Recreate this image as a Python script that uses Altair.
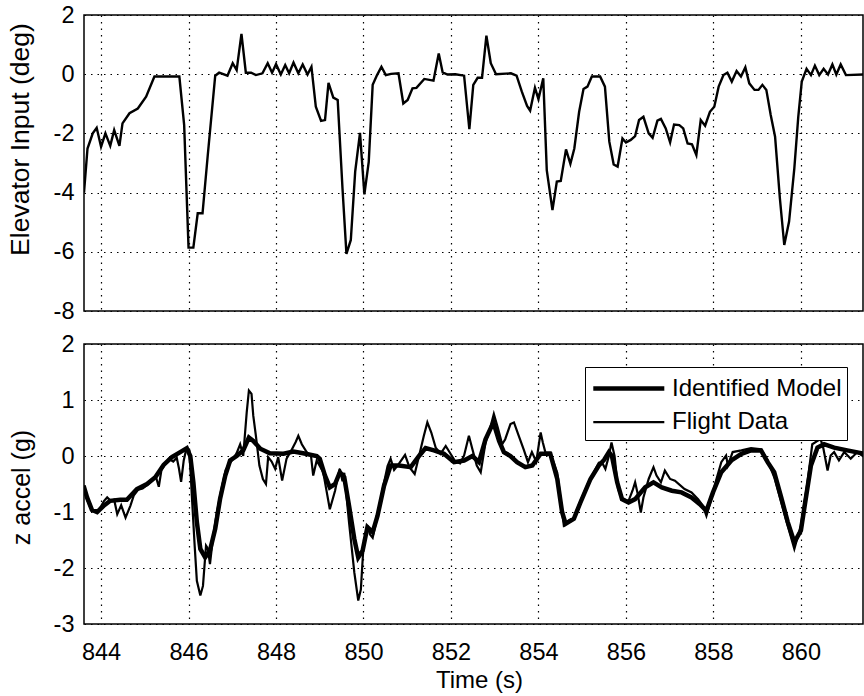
import altair as alt
import pandas as pd

# ---------------- data ----------------
elev_t = [843.61, 843.69, 843.81, 843.90, 844.00, 844.10, 844.21, 844.30, 844.42, 844.49,
          844.65, 844.84, 845.03, 845.22, 845.79, 845.90, 846.00, 846.11, 846.21, 846.32,
          846.44, 846.61, 846.70, 846.89, 847.01, 847.10, 847.21, 847.31, 847.43, 847.54,
          847.69, 847.81, 847.91, 848.00, 848.11, 848.21, 848.30, 848.40, 848.51, 848.61,
          848.72, 848.81, 848.91, 849.03, 849.12, 849.20, 849.31, 849.41, 849.52, 849.61,
          849.71, 849.81, 849.92, 850.02, 850.12, 850.21, 850.31, 850.41, 850.51, 850.63,
          850.80, 850.91, 851.01, 851.12, 851.21, 851.39, 851.60, 851.72, 851.81, 851.92,
          852.10, 852.30, 852.42, 852.51, 852.61, 852.71, 852.81, 852.91, 853.03, 853.37,
          853.50, 853.62, 853.74, 853.81, 853.92, 854.00, 854.11, 854.19, 854.32, 854.42,
          854.51, 854.63, 854.73, 854.82, 854.93, 855.03, 855.12, 855.22, 855.41, 855.52,
          855.62, 855.72, 855.81, 855.92, 856.00, 856.11, 856.21, 856.30, 856.40, 856.52,
          856.61, 856.72, 856.80, 856.91, 857.01, 857.10, 857.22, 857.31, 857.41, 857.51,
          857.61, 857.71, 857.81, 857.92, 858.02, 858.12, 858.23, 858.32, 858.42, 858.53,
          858.63, 858.73, 858.82, 858.94, 859.03, 859.12, 859.21, 859.31, 859.41, 859.52,
          859.62, 859.73, 859.85, 859.94, 860.02, 860.13, 860.23, 860.32, 860.42, 860.52,
          860.62, 860.72, 860.81, 860.91, 861.03, 861.45]
elev_v = [-4.00, -2.51, -2.00, -1.81, -2.45, -2.00, -2.42, -1.89, -2.42, -1.66,
          -1.32, -1.16, -0.76, -0.08, -0.08, -1.72, -5.86, -5.86, -4.70, -4.70,
          -2.73, -0.05, 0.05, -0.05, 0.37, 0.14, 1.36, 0.05, 0.05, -0.03,
          0.03, 0.37, 0.05, 0.34, -0.01, 0.31, 0.03, 0.39, 0.03, 0.33,
          -0.01, 0.25, -1.10, -1.58, -1.55, -0.29, -0.79, -0.87, -3.86, -6.07,
          -5.60, -3.29, -1.98, -4.06, -2.96, -0.36, -0.03, 0.25, -0.03, 0.01,
          0.03, -0.99, -0.87, -0.48, -0.46, -0.16, -0.22, 0.70, 0.06, -0.01,
          0.00, -0.05, -1.86, -0.36, -0.12, -0.12, 1.30, 0.37, 0.00, 0.03,
          -0.05, -0.59, -1.07, -1.23, -0.46, -0.84, -0.14, -3.24, -4.59, -3.63,
          -3.61, -2.54, -3.03, -2.51, -1.27, -0.50, -0.42, -0.08, -0.08, -0.42,
          -2.28, -3.05, -3.12, -2.17, -2.31, -2.22, -2.09, -1.55, -1.44, -2.00,
          -2.15, -1.57, -1.51, -1.83, -2.30, -1.70, -1.72, -1.83, -2.34, -2.37,
          -2.73, -1.55, -1.74, -1.27, -1.10, -0.42, -0.03, 0.05, -0.25, 0.11,
          -0.08, 0.23, -0.31, -0.53, -0.53, -0.36, -0.53, -1.38, -2.11, -4.20,
          -5.77, -4.98, -3.18, -1.44, -0.25, 0.18, -0.03, 0.29, -0.03, 0.18,
          -0.01, 0.33, -0.01, 0.33, -0.03, -0.01]

model_t = [843.60, 843.68, 843.79, 843.91, 844.06, 844.21, 844.44, 844.59, 844.82, 845.05,
           845.24, 845.43, 845.62, 845.81, 845.96, 846.04, 846.11, 846.19, 846.27, 846.38,
           846.49, 846.61, 846.72, 846.84, 846.95, 847.10, 847.25, 847.38, 847.48, 847.64,
           847.86, 848.17, 848.40, 848.62, 848.93, 849.00, 849.12, 849.23, 849.35, 849.46,
           849.56, 849.67, 849.79, 849.88, 849.98, 850.09, 850.21, 850.32, 850.47, 850.62,
           850.81, 851.08, 851.27, 851.42, 851.61, 851.84, 852.07, 852.30, 852.49, 852.64,
           852.79, 852.97, 853.10, 853.21, 853.36, 853.51, 853.70, 853.86, 854.05, 854.27,
           854.43, 854.54, 854.62, 854.81, 854.96, 855.19, 855.38, 855.50, 855.61, 855.68,
           855.80, 855.91, 856.06, 856.21, 856.44, 856.63, 856.82, 857.05, 857.27, 857.50,
           857.69, 857.84, 857.99, 858.18, 858.41, 858.64, 858.86, 859.09, 859.24, 859.39,
           859.55, 859.70, 859.85, 860.00, 860.11, 860.23, 860.38, 860.53, 860.76, 861.06,
           861.45]
model_v = [-0.53, -0.74, -0.96, -1.00, -0.89, -0.80, -0.78, -0.78, -0.59, -0.50,
           -0.38, -0.16, -0.02, 0.07, 0.14, 0.00, -0.47, -1.18, -1.66, -1.81,
           -1.69, -1.30, -0.77, -0.35, -0.08, 0.00, 0.10, 0.33, 0.27, 0.13,
           0.05, 0.04, 0.08, 0.05, 0.00, -0.05, -0.35, -0.56, -0.50, -0.29,
           -0.38, -0.89, -1.48, -1.81, -1.69, -1.27, -1.36, -1.07, -0.53, -0.17,
           -0.17, -0.20, 0.00, 0.14, 0.10, 0.04, -0.11, -0.08, 0.00, -0.11,
           0.30, 0.60, 0.27, 0.07, 0.00, -0.11, -0.20, -0.17, 0.04, 0.04,
           -0.41, -1.00, -1.21, -1.12, -0.83, -0.41, -0.17, -0.07, 0.07, 0.00,
           -0.47, -0.77, -0.83, -0.77, -0.56, -0.47, -0.56, -0.62, -0.65, -0.74,
           -0.86, -0.98, -0.65, -0.29, -0.08, 0.04, 0.10, 0.10, -0.11, -0.29,
           -0.74, -1.18, -1.54, -1.33, -0.77, -0.17, 0.15, 0.21, 0.15, 0.10,
           0.04]

flight_t = [843.60, 843.68, 843.79, 843.91, 844.00, 844.07, 844.14, 844.22, 844.30, 844.37,
            844.46, 844.56, 844.67, 844.75, 844.85, 844.95, 845.05, 845.15, 845.25, 845.32,
            845.38, 845.48, 845.55, 845.65, 845.73, 845.78, 845.83, 845.89, 845.95, 846.02,
            846.08, 846.14, 846.19, 846.27, 846.33, 846.40, 846.44, 846.49, 846.56, 846.65,
            846.75, 846.85, 846.95, 847.02, 847.10, 847.18, 847.25, 847.33, 847.38, 847.44,
            847.48, 847.54, 847.62, 847.70, 847.77, 847.82, 847.90, 847.98, 848.05, 848.14,
            848.24, 848.35, 848.45, 848.51, 848.59, 848.70, 848.80, 848.85, 848.93, 849.08,
            849.15, 849.23, 849.35, 849.42, 849.46, 849.52, 849.56, 849.67, 849.79, 849.88,
            849.94, 850.00, 850.09, 850.15, 850.21, 850.32, 850.45, 850.55, 850.62, 850.70,
            850.80, 850.95, 851.05, 851.17, 851.27, 851.38, 851.46, 851.55, 851.65, 851.76,
            851.88, 851.99, 852.10, 852.21, 852.30, 852.41, 852.49, 852.59, 852.68, 852.79,
            852.89, 852.98, 853.07, 853.17, 853.24, 853.36, 853.44, 853.55, 853.67, 853.76,
            853.85, 853.95, 854.05, 854.10, 854.16, 854.27, 854.43, 854.58, 854.70, 854.81,
            854.96, 855.10, 855.19, 855.38, 855.45, 855.53, 855.61, 855.67, 855.74, 855.82,
            855.91, 856.06, 856.15, 856.21, 856.27, 856.34, 856.40, 856.52, 856.63, 856.70,
            856.80, 856.89, 857.01, 857.12, 857.34, 857.50, 857.65, 857.76, 857.84, 857.95,
            858.07, 858.18, 858.29, 858.33, 858.44, 858.64, 858.86, 859.09, 859.24, 859.40,
            859.55, 859.70, 859.85, 860.00, 860.15, 860.26, 860.38, 860.45, 860.51, 860.61,
            860.68, 860.76, 860.87, 860.99, 861.14, 861.29, 861.45]
flight_v = [-0.53, -0.78, -0.98, -1.00, -0.90, -0.80, -0.74, -0.80, -0.78, -1.04,
            -0.88, -1.10, -0.89, -0.70, -0.60, -0.58, -0.52, -0.45, -0.36, -0.55,
            -0.25, -0.12, -0.05, -0.10, -0.03, -0.22, -0.46, -0.08, 0.13, 0.10,
            -0.77, -1.60, -2.23, -2.49, -2.32, -1.60, -1.65, -1.93, -1.45, -1.00,
            -0.60, -0.25, -0.12, -0.05, 0.05, 0.21, 0.00, 0.78, 1.17, 1.11,
            0.72, 0.36, -0.17, -0.41, -0.50, -0.02, -0.10, -0.23, -0.02, -0.44,
            -0.05, 0.10, 0.25, 0.36, 0.21, 0.07, 0.00, -0.35, -0.08, -0.29,
            -0.60, -0.95, -0.62, -0.35, -0.23, -0.45, -0.30, -1.19, -2.08, -2.58,
            -2.38, -1.60, -1.24, -1.40, -1.46, -1.07, -0.55, -0.18, -0.05, -0.25,
            -0.15, 0.02, -0.20, -0.32, 0.00, 0.36, 0.60, 0.42, 0.15, 0.04,
            0.18, 0.04, -0.10, -0.13, 0.01, 0.36, 0.12, -0.17, -0.29, 0.24,
            0.48, 0.75, 0.51, 0.21, 0.30, 0.57, 0.60, 0.36, 0.10, -0.11,
            0.07, -0.10, 0.42, 0.24, 0.06, 0.06, -0.30, -1.24, -1.15, -1.10,
            -0.80, -0.55, -0.40, -0.12, -0.11, -0.23, 0.00, 0.24, 0.00, -0.59,
            -0.77, -0.80, -0.62, -0.47, -0.68, -1.01, -0.74, -0.41, -0.20, -0.35,
            -0.47, -0.26, -0.41, -0.44, -0.59, -0.65, -0.77, -0.89, -1.07, -0.77,
            -0.41, -0.11, 0.01, -0.17, 0.07, 0.10, 0.14, 0.12, -0.08, -0.40,
            -0.83, -1.25, -1.66, -1.24, -0.47, 0.21, 0.27, 0.30, 0.15, -0.26,
            0.01, 0.07, -0.08, 0.07, -0.05, 0.07, -0.02]

series_names = ["Identified Model", "Flight Data"]
x_ticks = [844, 846, 848, 850, 852, 854, 856, 858, 860]
elev_ticks = [-8, -6, -4, -2, 0, 2]
acc_ticks = [-3, -2, -1, 0, 1, 2]

# ---------------- chart ----------------
FONT = "Liberation Sans"
W = 779
X_DOMAIN = [843.61, 861.42]
minus_expr = "datum.value < 0 ? '-' + format(-datum.value, 'd') : format(datum.value, 'd')"

elev_df = pd.DataFrame({"t": elev_t, "v": elev_v})
acc_df = pd.concat([
    pd.DataFrame({"t": model_t, "v": model_v, "s": series_names[0]}),
    pd.DataFrame({"t": flight_t, "v": flight_v, "s": series_names[1]}),
], ignore_index=True)

top = alt.Chart(elev_df).mark_line(color="black", strokeWidth=2.4, clip=True).encode(
    x=alt.X("t:Q", scale=alt.Scale(domain=X_DOMAIN, nice=False, zero=False),
            axis=alt.Axis(values=x_ticks, labels=False, title=None)),
    y=alt.Y("v:Q", scale=alt.Scale(domain=[-8, 2], nice=False, zero=False),
            axis=alt.Axis(values=elev_ticks, labelExpr=minus_expr,
                          title="Elevator Input (deg)", titleY=124, titleFontSize=26.5)),
).properties(width=W, height=296)

# legend: long horizontal line symbols (custom path wider than the nominal symbol box)
legend_kw = dict(
    orient="none", legendX=501, legendY=352, title=None,
    symbolType="M-2.5,0H2.5", symbolSize=807, symbolStrokeColor="black",
    symbolOffset=22.3, labelOffset=26.8, labelLimit=400,
    labelFont=FONT, labelFontSize=24, labelColor="black",
    fillColor="white", strokeColor="black", padding=5, rowPadding=5.6,
)

bottom = alt.Chart(acc_df).mark_line(clip=True).encode(
    x=alt.X("t:Q", scale=alt.Scale(domain=X_DOMAIN, nice=False, zero=False),
            axis=alt.Axis(values=x_ticks, format="d", title="Time (s)",
                          labelPadding=16, titlePadding=5, titleX=395)),
    y=alt.Y("v:Q", scale=alt.Scale(domain=[-3, 2], nice=False, zero=False),
            axis=alt.Axis(values=acc_ticks, labelExpr=minus_expr,
                          title="z accel (g)", titleY=143)),
    color=alt.Color("s:N", scale=alt.Scale(domain=series_names, range=["black", "black"]),
                    legend=alt.Legend(**legend_kw)),
    strokeWidth=alt.StrokeWidth("s:N", scale=alt.Scale(domain=series_names, range=[4.5, 2.2]),
                                legend=alt.Legend(**legend_kw)),
).properties(width=W, height=280)

chart = alt.vconcat(top, bottom, spacing=33, bounds="flush").properties(
    padding={"left": 6, "top": 2, "right": 0, "bottom": 0}
).configure_view(
    stroke="black", strokeWidth=1.5
).configure_axis(
    labelFont=FONT, labelFontSize=23.5, labelColor="black",
    titleFont=FONT, titleFontSize=25, titleFontWeight="normal", titleColor="black",
    grid=True, gridColor="black", gridDash=[1.5, 5], gridOpacity=1, gridWidth=1.2,
    ticks=False, domain=False, labelPadding=10, titlePadding=19,
).configure_axisX(
    titleFontSize=24,
)

chart.save("out.html", embed_options={"renderer": "svg", "actions": False})
